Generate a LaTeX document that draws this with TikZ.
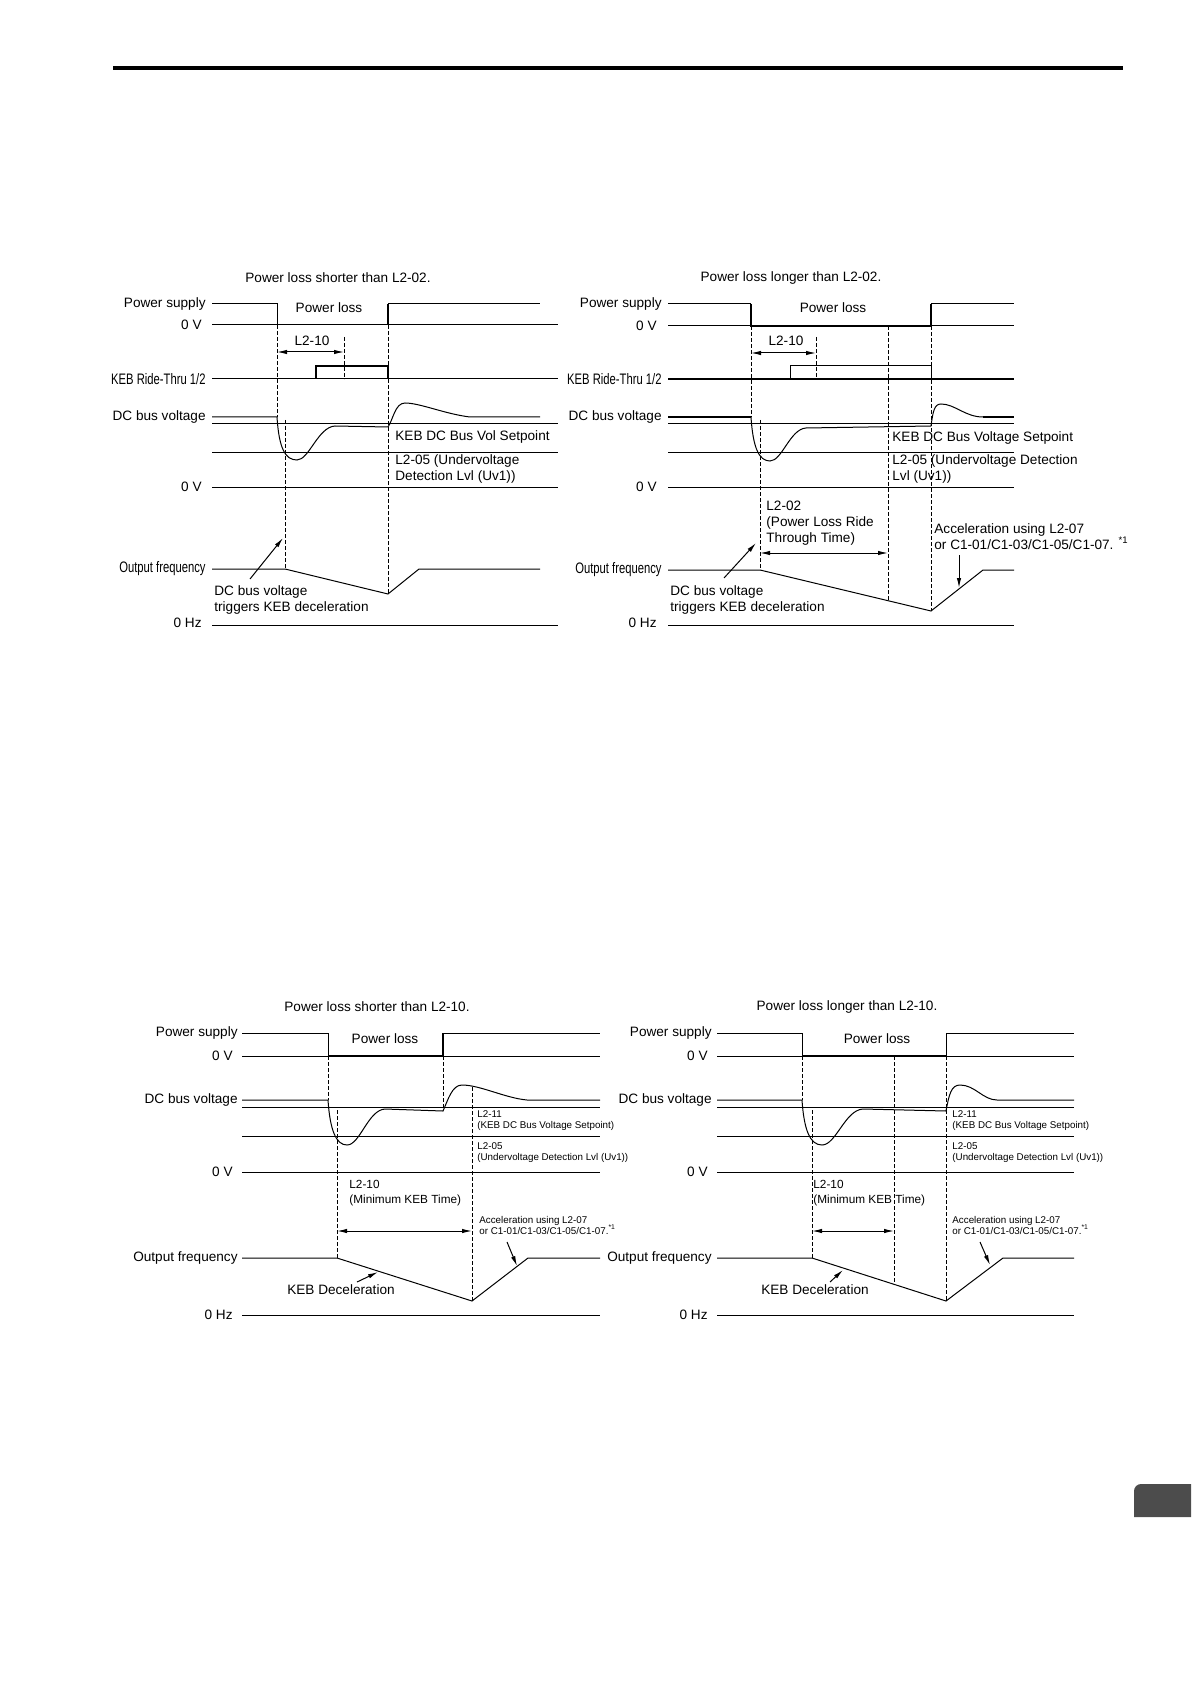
\documentclass[tikz,border=0pt]{standalone}
\usepackage{fontspec}
\setmainfont{Liberation Sans}
\newfontfamily\narrowfont{Liberation Sans}[FakeStretch=0.74]
\usetikzlibrary{arrows.meta}
\usetikzlibrary{positioning}
\tikzset{>={Latex[length=5pt, width=2.2pt]}}
\tikzset{sig/.style = {line width=0.5pt}}
\tikzset{bold/.style = {line width=1.1pt}}
\tikzset{guide/.style = {line width=0.5pt, dash pattern=on 1.8pt off 1.2pt}}
\tikzset{lbl/.style = {inner sep=0, font=\fontsize{6.8}{8}\selectfont, align=left}}
\tikzset{midlbl/.style = {inner sep=0, font=\fontsize{5.9}{7.5}\selectfont, align=left}}
\tikzset{nlbl/.style = {inner sep=0, font=\narrowfont\fontsize{7.6}{8}\selectfont}}
\tikzset{small/.style = {inner sep=0, font=\fontsize{4.9}{5.5}\selectfont, align=left}}
\definecolor{tabgray}{rgb}{0.3, 0.3, 0.3}

\begin{document}
\begin{tikzpicture}[x=0.5pt, y=-0.5pt]
      \useasboundingbox (0,0) rectangle (1191,1684);
      \draw [line width=2pt] (113,68) -- (1123,68);
      \fill [tabgray] (1134,1517) -- (1134,1491) arc [start angle=180, end angle=90, radius=3.5pt] -- (1191,1484) -- (1191,1517) -- cycle;

      % top left: shorter than L2-02
      \node [lbl] (tl-title) at (338,278) {Power loss shorter than L2-02.};
      \node [lbl, anchor=east] (tl-ps) at (206,304) {Power supply};
      \node [lbl, anchor=east] (tl-0v) at (202,325) {0 V};
      \node [nlbl, anchor=east] (tl-keb) at (206,379) {KEB Ride-Thru 1/2};
      \node [lbl, anchor=east] (tl-dc) at (206,417) {DC bus voltage};
      \node [lbl, anchor=east] (tl-0vb) at (202,487) {0 V};
      \node [nlbl, anchor=east] (tl-of) at (206,569) {Output frequency};
      \node [lbl, anchor=east] (tl-0hz) at (202,623) {0 Hz};

      \draw [sig] (212,304) -- (277,304) -- (277,325);
      \draw [sig] (212,325) -- (558,325);
      \draw [bold] (388,325) -- (388,304);
      \draw [sig] (388,304) -- (540,304);
      \node [lbl] (tl-loss) at (329,308) {Power loss};

      \draw [guide] (277,325) -- (277,417);
      \draw [guide] (285,420) -- (285,569);
      \draw [guide] (344,337) -- (344,379);
      \draw [guide] (388,325) -- (388,594);

      \draw [sig, <->] (277,352) -- (344,352);
      \node [lbl] (tl-l210) at (312,341) {L2-10};

      \draw [sig] (212,379) -- (558,379);
      \draw [bold] (316,379) -- (316,366) -- (388,366) -- (388,379);

      \draw [sig] (212,424) -- (558,424);
      \draw [sig] (212,452) -- (558,452);
      \draw [sig] (212,487) -- (558,487);
      \draw [sig] (212,417) -- (277,417) .. controls (279,448) and (285,460) .. (297,460)
            .. controls (309,460) and (318,427) .. (335,426) -- (388,427)
            .. controls (393,420) and (395,403) .. (405,403)
            .. controls (420,403) and (445,414) .. (470,417) -- (540,417);
      \node [lbl, anchor=west] (tl-set) at (395,437) {KEB DC Bus Vol Setpoint};
      \node [lbl, anchor=west] (tl-uv) at (395,469) {L2-05 (Undervoltage\\Detection Lvl (Uv1))};

      \draw [sig] (212,569) -- (285,569) -- (388,594) -- (419,569) -- (540,569);
      \draw [sig] (212,625) -- (558,625);
      \node [lbl, anchor=west] (tl-trig) at (214,600) {DC bus voltage\\triggers KEB deceleration};
      \coordinate (tl-trig-tail) at (250,579);
      \coordinate (tl-trig-tip) at (283,538);
      \draw [sig, ->] (tl-trig-tail) -- (tl-trig-tip);

      % top right: longer than L2-02
      \node [lbl] (tr-title) at (791,278) {Power loss longer than L2-02.};
      \node [lbl, anchor=east] (tr-ps) at (662,304) {Power supply};
      \node [lbl, anchor=east] (tr-0v) at (657,326) {0 V};
      \node [nlbl, anchor=east] (tr-keb) at (662,379) {KEB Ride-Thru 1/2};
      \node [lbl, anchor=east] (tr-dc) at (662,417) {DC bus voltage};
      \node [lbl, anchor=east] (tr-0vb) at (657,487) {0 V};
      \node [nlbl, anchor=east] (tr-of) at (662,570) {Output frequency};
      \node [lbl, anchor=east] (tr-0hz) at (657,623) {0 Hz};

      \draw [sig] (668,304) -- (751,304);
      \draw [sig] (668,326) -- (1014,326);
      \draw [bold] (751,304) -- (751,326) -- (931,326) -- (931,304);
      \draw [sig] (931,304) -- (1014,304);
      \node [lbl] (tr-loss) at (833,308) {Power loss};

      \draw [guide] (751,326) -- (751,417);
      \draw [guide] (760,420) -- (760,570);
      \draw [guide] (816,337) -- (816,379);
      \draw [guide] (888,326) -- (888,600);
      \draw [guide] (931,326) -- (931,611);

      \draw [sig, <->] (751,353) -- (816,353);
      \node [lbl] (tr-l210) at (786,341) {L2-10};

      \draw [bold] (668,379) -- (1014,379);
      \draw [sig] (790,379) -- (790,366) -- (931,366) -- (931,379);

      \draw [sig] (668,424) -- (1014,424);
      \draw [sig] (668,452) -- (1014,452);
      \draw [sig] (668,487) -- (1014,487);
      \draw [bold] (668,417) -- (751,417);
      \draw [sig] (751,417) .. controls (753,448) and (759,461) .. (770,461)
            .. controls (782,461) and (790,429) .. (806,428) -- (931,426)
            .. controls (933,412) and (934,404) .. (941,404)
            .. controls (955,404) and (965,417) .. (983,417);
      \draw [bold] (983,417) -- (1014,417);
      \node [lbl, anchor=west] (tr-set) at (892,438) {KEB DC Bus Voltage Setpoint};
      \node [lbl, anchor=west] (tr-uv) at (892,469) {L2-05 (Undervoltage Detection\\Lvl (Uv1))};

      \node [lbl, anchor=west] (tr-l202) at (766,523) {L2-02\\(Power Loss Ride\\Through Time)};
      \draw [sig, <->] (760,553) -- (888,553);

      \node [lbl, anchor=west] (tr-acc) at (934,537) {Acceleration using L2-07\\or C1-01/C1-03/C1-05/C1-07. \textsuperscript{*1}};
      \coordinate (tr-acc-tail) at (959,555);
      \coordinate (tr-acc-tip) at (959,588);
      \draw [sig, ->] (tr-acc-tail) -- (tr-acc-tip);

      \draw [sig] (668,570) -- (760,570) -- (931,611) -- (983,570) -- (1014,570);
      \draw [sig] (668,625) -- (1014,625);
      \node [lbl, anchor=west] (tr-trig) at (670,600) {DC bus voltage\\triggers KEB deceleration};
      \coordinate (tr-trig-tail) at (724,578);
      \coordinate (tr-trig-tip) at (756,543);
      \draw [sig, ->] (tr-trig-tail) -- (tr-trig-tip);

      % bottom left: shorter than L2-10
      \node [lbl] (bl-title) at (377,1007) {Power loss shorter than L2-10.};
      \node [lbl, anchor=east] (bl-ps) at (238,1033) {Power supply};
      \node [lbl, anchor=east] (bl-0v) at (233,1056) {0 V};
      \node [lbl, anchor=east] (bl-dc) at (238,1100) {DC bus voltage};
      \node [lbl, anchor=east] (bl-0vb) at (233,1172) {0 V};
      \node [lbl, anchor=east] (bl-of) at (238,1258) {Output frequency};
      \node [lbl, anchor=east] (bl-0hz) at (233,1315) {0 Hz};

      \draw [sig] (242,1033) -- (328,1033) -- (328,1056);
      \draw [sig] (242,1056) -- (600,1056);
      \draw [bold] (328,1056) -- (443,1056) -- (443,1033);
      \draw [sig] (443,1033) -- (600,1033);
      \node [lbl] (bl-loss) at (385,1039) {Power loss};

      \draw [guide] (328,1056) -- (328,1100);
      \draw [guide] (337,1110) -- (337,1258);
      \draw [guide] (443,1056) -- (443,1110);
      \draw [guide] (472,1087) -- (472,1301);

      \draw [sig] (242,1107) -- (600,1107);
      \draw [sig] (242,1136) -- (600,1136);
      \draw [sig] (242,1172) -- (600,1172);
      \draw [sig] (242,1100) -- (328,1100) .. controls (330,1130) and (336,1145) .. (347,1145)
            .. controls (360,1145) and (368,1110) .. (385,1109) -- (443,1111)
            .. controls (448,1100) and (452,1085) .. (462,1085)
            .. controls (480,1085) and (505,1098) .. (527,1100) -- (600,1100);
      \node [small, anchor=west] (bl-set) at (477,1121) {L2-11\\(KEB DC Bus Voltage Setpoint)};
      \node [small, anchor=west] (bl-uv) at (477,1153) {L2-05\\(Undervoltage Detection Lvl (Uv1))};

      \node [midlbl, anchor=west] (bl-l210) at (349,1193) {L2-10\\(Minimum KEB Time)};
      \draw [sig, <->] (337,1231) -- (472,1231);

      \node [small, anchor=west] (bl-acc) at (479,1225) {Acceleration using L2-07\\or C1-01/C1-03/C1-05/C1-07.\textsuperscript{*1}};
      \coordinate (bl-acc-tail) at (507,1242);
      \coordinate (bl-acc-tip) at (517,1266);
      \draw [sig, ->] (bl-acc-tail) -- (bl-acc-tip);

      \draw [sig] (242,1258) -- (337,1258) -- (472,1301) -- (528,1258) -- (600,1258);
      \draw [sig] (242,1315) -- (600,1315);
      \node [lbl] (bl-dec) at (341,1290) {KEB Deceleration};
      \coordinate (bl-dec-tail) at (357,1282);
      \coordinate (bl-dec-tip) at (378,1272);
      \draw [sig, ->] (bl-dec-tail) -- (bl-dec-tip);

      % bottom right: longer than L2-10
      \node [lbl] (br-title) at (847,1007) {Power loss longer than L2-10.};
      \node [lbl, anchor=east] (br-ps) at (712,1033) {Power supply};
      \node [lbl, anchor=east] (br-0v) at (708,1056) {0 V};
      \node [lbl, anchor=east] (br-dc) at (712,1100) {DC bus voltage};
      \node [lbl, anchor=east] (br-0vb) at (708,1172) {0 V};
      \node [lbl, anchor=east] (br-of) at (712,1258) {Output frequency};
      \node [lbl, anchor=east] (br-0hz) at (708,1315) {0 Hz};

      \draw [sig] (717,1033) -- (802,1033) -- (802,1056);
      \draw [sig] (717,1056) -- (1074,1056);
      \draw [bold] (802,1056) -- (946,1056);
      \draw [sig] (946,1056) -- (946,1033) -- (1074,1033);
      \node [lbl] (br-loss) at (877,1039) {Power loss};

      \draw [guide] (802,1056) -- (802,1100);
      \draw [guide] (812,1110) -- (812,1258);
      \draw [guide] (894,1056) -- (894,1285);
      \draw [guide] (946,1056) -- (946,1301);

      \draw [sig] (717,1107) -- (1074,1107);
      \draw [sig] (717,1136) -- (1074,1136);
      \draw [sig] (717,1172) -- (1074,1172);
      \draw [sig] (717,1100) -- (802,1100) .. controls (804,1130) and (810,1145) .. (822,1145)
            .. controls (836,1145) and (845,1110) .. (863,1109) -- (946,1111)
            .. controls (949,1095) and (951,1085) .. (960,1085)
            .. controls (975,1085) and (983,1100) .. (997,1100) -- (1074,1100);
      \node [small, anchor=west] (br-set) at (952,1121) {L2-11\\(KEB DC Bus Voltage Setpoint)};
      \node [small, anchor=west] (br-uv) at (952,1153) {L2-05\\(Undervoltage Detection Lvl (Uv1))};

      \node [midlbl, anchor=west] (br-l210) at (813,1193) {L2-10\\(Minimum KEB Time)};
      \draw [sig, <->] (812,1231) -- (894,1231);

      \node [small, anchor=west] (br-acc) at (952,1225) {Acceleration using L2-07\\or C1-01/C1-03/C1-05/C1-07.\textsuperscript{*1}};
      \coordinate (br-acc-tail) at (980,1242);
      \coordinate (br-acc-tip) at (990,1265);
      \draw [sig, ->] (br-acc-tail) -- (br-acc-tip);

      \draw [sig] (717,1258) -- (812,1258) -- (946,1301) -- (1003,1258) -- (1074,1258);
      \draw [sig] (717,1315) -- (1074,1315);
      \node [lbl] (br-dec) at (815,1290) {KEB Deceleration};
      \coordinate (br-dec-tail) at (830,1282);
      \coordinate (br-dec-tip) at (843,1270);
      \draw [sig, ->] (br-dec-tail) -- (br-dec-tip);
\end{tikzpicture}
\end{document}
